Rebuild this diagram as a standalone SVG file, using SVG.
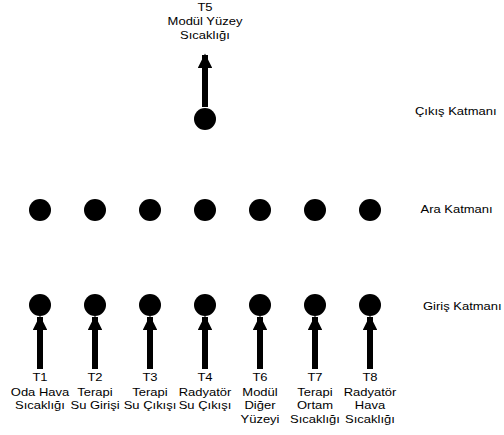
<svg xmlns="http://www.w3.org/2000/svg" width="504" height="435" viewBox="0 0 504 435">
<defs>
<style>
text{font-family:"Liberation Sans",Arial,sans-serif;font-size:10px;fill:#000;text-anchor:middle}
.lay{text-anchor:start}
circle{fill:#000}
.sh{stroke:#000;stroke-width:6}
</style>
<marker id="ah" viewBox="0 0 10 10" refX="9" refY="5" markerWidth="2.5" markerHeight="2.4" orient="auto" markerUnits="strokeWidth">
<path d="M0,0 L10,5 L0,10 z" fill="#000"/>
</marker>
</defs>
<g id="connectors">
<line class="sh" x1="205" y1="107" x2="205" y2="55" marker-end="url(#ah)"/>
<line class="sh" x1="40" y1="369" x2="40" y2="317" marker-end="url(#ah)"/>
<line class="sh" x1="95" y1="369" x2="95" y2="317" marker-end="url(#ah)"/>
<line class="sh" x1="150" y1="369" x2="150" y2="317" marker-end="url(#ah)"/>
<line class="sh" x1="205" y1="369" x2="205" y2="317" marker-end="url(#ah)"/>
<line class="sh" x1="260" y1="369" x2="260" y2="317" marker-end="url(#ah)"/>
<line class="sh" x1="315" y1="369" x2="315" y2="317" marker-end="url(#ah)"/>
<line class="sh" x1="370" y1="369" x2="370" y2="317" marker-end="url(#ah)"/>
</g>
<g id="out"><circle cx="205" cy="119" r="11"/>
<text transform="translate(205,11) scale(1.3,1)">T5</text>
<text transform="translate(205,25) scale(1.3,1)">Modül Yüzey</text>
<text transform="translate(205,38.5) scale(1.3,1)">Sıcaklığı</text></g>
<g id="h1"><circle cx="40" cy="210" r="11"/></g>
<g id="h2"><circle cx="95" cy="210" r="11"/></g>
<g id="h3"><circle cx="150" cy="210" r="11"/></g>
<g id="h4"><circle cx="205" cy="210" r="11"/></g>
<g id="h5"><circle cx="260" cy="210" r="11"/></g>
<g id="h6"><circle cx="315" cy="210" r="11"/></g>
<g id="h7"><circle cx="370" cy="210" r="11"/></g>
<g id="i1"><circle cx="40" cy="305" r="11"/>
<text transform="translate(40,381) scale(1.3,1)">T1</text>
<text transform="translate(40,395.5) scale(1.3,1)">Oda Hava</text>
<text transform="translate(40,409) scale(1.3,1)">Sıcaklığı</text></g>
<g id="i2"><circle cx="95" cy="305" r="11"/>
<text transform="translate(95,381) scale(1.3,1)">T2</text>
<text transform="translate(95,395.5) scale(1.3,1)">Terapi</text>
<text transform="translate(95,409) scale(1.3,1)">Su Girişi</text></g>
<g id="i3"><circle cx="150" cy="305" r="11"/>
<text transform="translate(150,381) scale(1.3,1)">T3</text>
<text transform="translate(150,395.5) scale(1.3,1)">Terapi</text>
<text transform="translate(150,409) scale(1.3,1)">Su Çıkışı</text></g>
<g id="i4"><circle cx="205" cy="305" r="11"/>
<text transform="translate(205,381) scale(1.3,1)">T4</text>
<text transform="translate(205,395.5) scale(1.3,1)">Radyatör</text>
<text transform="translate(205,409) scale(1.3,1)">Su Çıkışı</text></g>
<g id="i6"><circle cx="260" cy="305" r="11"/>
<text transform="translate(260,381) scale(1.3,1)">T6</text>
<text transform="translate(260,395.5) scale(1.3,1)">Modül</text>
<text transform="translate(260,409) scale(1.3,1)">Diğer</text>
<text transform="translate(260,422.5) scale(1.3,1)">Yüzeyi</text></g>
<g id="i7"><circle cx="315" cy="305" r="11"/>
<text transform="translate(315,381) scale(1.3,1)">T7</text>
<text transform="translate(315,395.5) scale(1.3,1)">Terapi</text>
<text transform="translate(315,409) scale(1.3,1)">Ortam</text>
<text transform="translate(315,422.5) scale(1.3,1)">Sıcaklığı</text></g>
<g id="i8"><circle cx="370" cy="305" r="11"/>
<text transform="translate(370,381) scale(1.3,1)">T8</text>
<text transform="translate(370,395.5) scale(1.3,1)">Radyatör</text>
<text transform="translate(370,409) scale(1.3,1)">Hava</text>
<text transform="translate(370,422.5) scale(1.3,1)">Sıcaklığı</text></g>
<g id="layers">
<text class="lay" transform="translate(415,115) scale(1.3,1)">Çıkış Katmanı</text>
<text class="lay" transform="translate(420.5,213) scale(1.3,1)">Ara Katmanı</text>
<text class="lay" transform="translate(423,310) scale(1.3,1)">Giriş Katmanı</text>
</g>
</svg>
